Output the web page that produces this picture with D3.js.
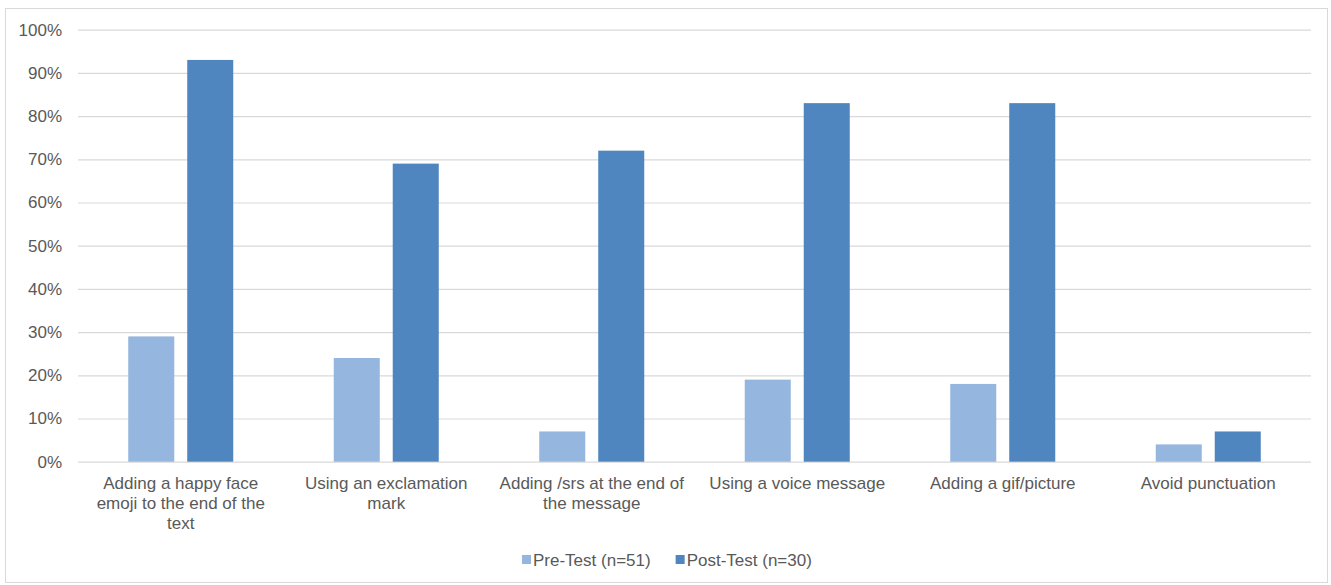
<!DOCTYPE html>
<html>
<head>
<meta charset="utf-8">
<script src="https://cdn.jsdelivr.net/npm/d3@7"></script>
<style>
  html, body { margin: 0; padding: 0; background: #fff; }
  svg text { font-family: "Liberation Sans", Arial, Helvetica, sans-serif; fill: #595959; }
</style>
</head>
<body>
<svg id="chart" width="1331" height="585"></svg>
<script>
// Share of respondents choosing each option
const categories = [
  "Adding a happy face emoji to the end of the text",
  "Using an exclamation mark",
  "Adding /srs at the end of the message",
  "Using a voice message",
  "Adding a gif/picture",
  "Avoid punctuation"
];
const preTest = [29, 24, 7, 19, 18, 4];
const postTest = [93, 69, 72, 83, 83, 7];
const seriesNames = ["Pre-Test (n=51)", "Post-Test (n=30)"];
const yTicks = [0, 10, 20, 30, 40, 50, 60, 70, 80, 90, 100];

const colors = ["#95b6de", "#4f86bf"];
const svg = d3.select("#chart");
const W = 1331, H = 585;
const plot = { left: 78, right: 1311, top: 29.7, bottom: 461.7 };
const fontSize = 17;

// Outer frame
svg.append("rect")
  .attr("x", 5.5).attr("y", 8.5)
  .attr("width", 1322).attr("height", 574)
  .attr("fill", "#fff").attr("stroke", "#d9d9d9").attr("stroke-width", 1);

const x0 = d3.scaleBand().domain(categories).range([plot.left, plot.right]).paddingInner(0).paddingOuter(0);
const y = d3.scaleLinear().domain([0, 100]).range([plot.bottom, plot.top]);

// Bars occupy ~51% of each category slot, with a small gap between the pair
const groupW = x0.bandwidth() * 0.511;
const x1 = d3.scaleBand().domain([0, 1]).range([0, groupW]).paddingInner(0.22).paddingOuter(0);

// Gridlines and y axis labels
const yAxis = d3.axisLeft(y).tickValues(yTicks).tickSize(-(plot.right - plot.left)).tickFormat(d => d + "%");
const gy = svg.append("g").attr("transform", `translate(${plot.left},0)`).call(yAxis);
gy.select(".domain").remove();
gy.selectAll(".tick line").attr("stroke", "#d9d9d9").attr("stroke-width", 1.2);
gy.selectAll(".tick text")
  .attr("x", -16)
  .attr("font-size", fontSize)
  .style("font-family", '"Liberation Sans", Arial, sans-serif')
  .attr("fill", "#595959");

// Bars
const series = [preTest, postTest];
const groups = svg.append("g").selectAll("g")
  .data(categories)
  .join("g")
  .attr("transform", c => `translate(${x0(c) + (x0.bandwidth() - groupW) / 2},0)`);

groups.selectAll("rect")
  .data((c, i) => series.map((s, k) => ({ k, v: s[i] })))
  .join("rect")
  .attr("x", d => x1(d.k))
  .attr("width", x1.bandwidth())
  .attr("y", d => y(d.v))
  .attr("height", d => y(0) - y(d.v))
  .attr("fill", d => colors[d.k]);

// Category labels, wrapped to the slot width
const maxLabelW = 198;
const labelG = svg.append("g");
categories.forEach(c => {
  const t = labelG.append("text")
    .attr("text-anchor", "middle")
    .attr("font-size", fontSize)
    .attr("x", x0(c) + x0.bandwidth() / 2)
    .attr("y", 489);
  const words = c.split(" ");
  let line = [];
  let lineNo = 0;
  let tspan = t.append("tspan").attr("x", x0(c) + x0.bandwidth() / 2).attr("dy", 0);
  words.forEach(w => {
    line.push(w);
    tspan.text(line.join(" "));
    if (tspan.node().getComputedTextLength() > maxLabelW && line.length > 1) {
      line.pop();
      tspan.text(line.join(" "));
      line = [w];
      lineNo++;
      tspan = t.append("tspan").attr("x", x0(c) + x0.bandwidth() / 2).attr("dy", 20).text(w);
    }
  });
});

// Legend
const legend = svg.append("g");
const legendY = 560;
let lx = 522;
seriesNames.forEach((name, k) => {
  legend.append("rect")
    .attr("x", lx).attr("y", legendY - 5)
    .attr("width", 9).attr("height", 9)
    .attr("fill", colors[k]);
  const t = legend.append("text")
    .attr("x", lx + 11).attr("y", legendY + 6)
    .attr("font-size", fontSize)
    .text(name);
  lx += 11 + t.node().getComputedTextLength() + 25;
});
</script>
</body>
</html>
